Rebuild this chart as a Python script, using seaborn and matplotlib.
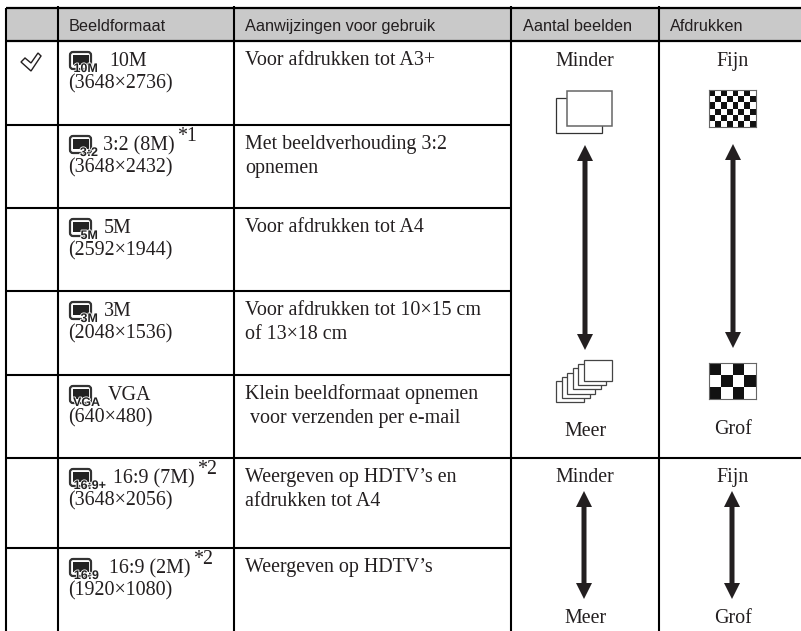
import matplotlib
matplotlib.use('Agg')
import matplotlib.pyplot as plt
import matplotlib.patheffects as pe
from matplotlib.patches import FancyBboxPatch, Polygon, Rectangle
import seaborn as sns

W, H = 801, 631

# table text
headers = ['Beeldformaat', 'Aanwijzingen voor gebruik', 'Aantal beelden', 'Afdrukken']
icon_labels = ['10M', '3:2', '5M', '3M', 'VGA', '16:9+', '16:9']
formats = ['10M', '3:2 (8M)', '5M', '3M', 'VGA', '16:9 (7M)', '16:9 (2M)']
sizes = ['(3648×2736)', '(3648×2432)', '(2592×1944)', '(2048×1536)', '(640×480)', '(3648×2056)', '(1920×1080)']
notes = ['', '*1', '', '', '', '*2', '*2']
usage_1 = ['Voor afdrukken tot A3+', 'Met beeldverhouding 3:2', 'Voor afdrukken tot A4',
           'Voor afdrukken tot 10×15 cm', 'Klein beeldformaat opnemen',
           'Weergeven op HDTV’s en', 'Weergeven op HDTV’s']
usage_2 = ['', 'opnemen', '', 'of 13×18 cm', ' voor verzenden per e-mail', 'afdrukken tot A4', '']

# quality swatches
fine_checker = [[1, 0, 1, 0, 1, 0, 1, 0],
                [0, 1, 0, 1, 0, 1, 0, 1],
                [1, 0, 1, 0, 1, 0, 1, 0],
                [0, 1, 0, 1, 0, 1, 0, 1],
                [1, 0, 1, 0, 1, 0, 1, 0],
                [0, 1, 0, 1, 0, 1, 0, 1]]
coarse_checker = [[1, 0, 1, 0],
                  [0, 1, 0, 1],
                  [1, 0, 1, 0]]

# layout, in pixels of the page
col_x = [6, 58, 234, 511, 659]
row_y = [41, 125, 208, 291, 375, 458, 548]
format_x = [109, 103, 104, 104, 108, 113, 109]
note_x = [0, 177, 0, 0, 0, 197, 193]
icon_right = [98, 98, 98, 98, 100, 106, 99]
INK = '#231f20'
SERIF = 'Liberation Serif'
NARROW = ['Liberation Sans Narrow', 'Liberation Sans']

sns.set_theme(style='white')
fig = plt.figure(figsize=(W / 100, H / 100), dpi=100, facecolor='white')
ax = fig.add_axes([0, 0, 1, 1])
ax.set_xlim(0, W)
ax.set_ylim(H, 0)
ax.axis('off')


def body(x, y, s, ha='left', size=14.4):
    ax.text(x, y, s, family=SERIF, fontsize=size, color=INK, ha=ha, va='baseline')


def icon(x, y, label, right):
    ax.add_patch(FancyBboxPatch((x, y), 21, 17, boxstyle='round,pad=0,rounding_size=3',
                                fc='white', ec='#333333', lw=1.6, zorder=3))
    ax.add_patch(Rectangle((x + 2.5, y + 2.5), 16, 10, fc='#222222', ec='none', zorder=3))
    ax.text(right, y + 20, label, family=NARROW, fontsize=9, fontweight='bold', color='#222222',
            ha='right', va='baseline', zorder=4,
            path_effects=[pe.withStroke(linewidth=1.2, foreground='white')])


def double_arrow(x, top, bottom):
    hw, hl, sw = 8, 16, 2.5
    ax.add_patch(Polygon([(x, top), (x + hw, top + hl), (x + sw, top + hl), (x + sw, bottom - hl),
                          (x + hw, bottom - hl), (x, bottom), (x - hw, bottom - hl), (x - sw, bottom - hl),
                          (x - sw, top + hl), (x - hw, top + hl)], closed=True, fc=INK, ec='none'))


def checker(data, left, top, width, height):
    sub = fig.add_axes([left / W, 1 - (top + height) / H, width / W, height / H])
    sns.heatmap(data, ax=sub, cmap=['white', '#111111'], cbar=False, xticklabels=False, yticklabels=False)
    for spine in sub.spines.values():
        spine.set_visible(True)
        spine.set_color('#666666')
        spine.set_linewidth(0.8)


# header band and rules
ax.add_patch(Rectangle((col_x[0], 8), W - col_x[0], 33, fc='#c9c9c9', ec='none'))
for x in col_x:
    ax.plot([x, x], [6 if x != col_x[0] else 8, H], color='black', lw=1.5, solid_capstyle='butt')
ax.plot([col_x[0], W], [8, 8], color='black', lw=1.6, solid_capstyle='butt')
ax.plot([col_x[0], W], [41, 41], color='black', lw=1.6, solid_capstyle='butt')
for y in row_y[1:5]:
    ax.plot([col_x[0], col_x[3]], [y, y], color='black', lw=1.5, solid_capstyle='butt')
ax.plot([col_x[0], W], [row_y[5], row_y[5]], color='black', lw=1.5, solid_capstyle='butt')
ax.plot([col_x[0], col_x[3]], [row_y[6], row_y[6]], color='black', lw=1.5, solid_capstyle='butt')

for x, s in zip([69, 245, 523, 670], headers):
    ax.text(x, 31, s, family=NARROW, fontsize=11.7, color=INK, ha='left', va='baseline')

# rows
for i, top in enumerate(row_y):
    icon(70, top + 11, icon_labels[i], icon_right[i])
    body(format_x[i], top + 25, formats[i])
    body(68.5, top + 47, sizes[i])
    body(245, top + 24, usage_1[i])
    body(245, top + 48, usage_2[i])
    if notes[i]:
        body(note_x[i], top + 16, notes[i])

# check mark in the first row
ax.add_patch(Polygon([(21, 62), (25, 58), (31, 63), (38, 53), (41, 56), (31, 71)], closed=True,
                     fc='white', ec=INK, lw=1.0))

# right hand columns
body(585, 66, 'Minder', ha='center')
body(733, 66, 'Fijn', ha='center')
body(585, 436, 'Meer', ha='center')
body(733, 434, 'Grof', ha='center')
body(585, 482, 'Minder', ha='center')
body(733, 482, 'Fijn', ha='center')
body(585, 623, 'Meer', ha='center')
body(733, 623, 'Grof', ha='center')

double_arrow(585, 145, 350)
double_arrow(733, 144, 348)
double_arrow(584, 491, 599)
double_arrow(732, 491, 599)

# stacks of pictures
ax.add_patch(Rectangle((556, 98), 46, 35, fc='white', ec='#333333', lw=0.9))
ax.add_patch(Rectangle((567, 91), 45, 35, fc='white', ec='#666666', lw=1.1))
for n in range(5, -1, -1):
    ax.add_patch(Rectangle((584 - n * 5.6, 360 + n * 4.2), 28, 21, fc='white', ec='#444444', lw=0.9))

checker(fine_checker, 709, 90, 47, 37)
checker(coarse_checker, 709, 363, 47, 36)

fig.savefig('out.png', dpi=100, facecolor='white')
